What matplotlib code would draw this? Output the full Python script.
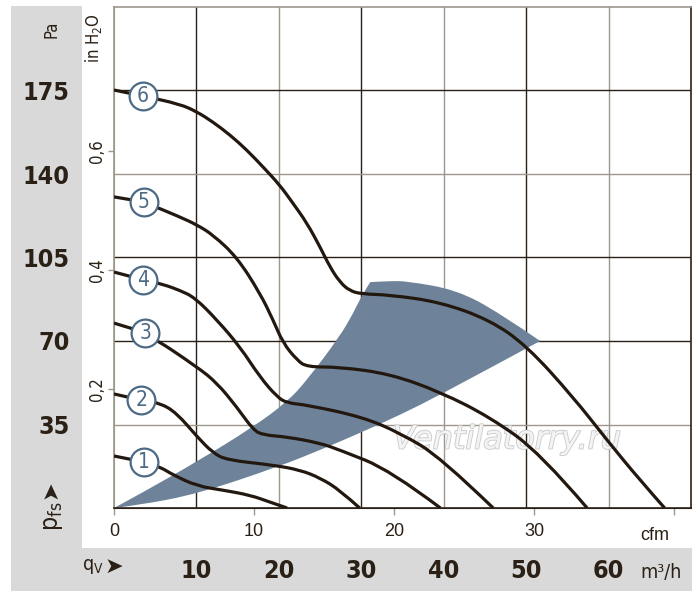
import matplotlib
matplotlib.use("Agg")
import matplotlib.pyplot as plt
import matplotlib.patheffects as pe
from matplotlib import font_manager
from matplotlib.patches import Rectangle, PathPatch
from matplotlib.path import Path

# ---- data: qV in m3/h, pfs in Pa ---------------------------------------------
q1 = [0, 3.6, 5.6, 7.2, 10.1, 13.2, 16.5, 18.9, 21.0]
p1 = [21.8, 19.3, 17.2, 13.8, 9.2, 7.5, 5.4, 2.5, 0]

q2 = [0, 3.2, 5.6, 7.6, 10.1, 12.0, 13.7, 19.3, 22.6, 25.0, 27.4, 29.8]
p2 = [47.8, 45.3, 44.0, 39.8, 29.8, 23.1, 20.1, 18.0, 15.9, 12.6, 7.5, 0]

q3 = [0, 3.9, 10.1, 12.5, 14.9, 16.9, 18.1, 21.0, 25.0, 27.4, 33.5, 39.6]
p3 = [77.5, 73.4, 59.1, 52.4, 42.3, 32.7, 30.6, 29.8, 27.2, 24.3, 15.9, 0]

q4 = [0, 3.6, 6.0, 8.0, 9.8, 12.5, 15.3, 17.7, 19.8, 21.0, 23.4, 30.2, 34.7, 39.6, 46.0]
p4 = [98.9, 95.6, 93.7, 91.2, 88.2, 78.8, 67.5, 54.9, 46.5, 44.0, 43.2, 38.1, 31.4, 21.4, 0]

q5 = [0, 3.6, 8.0, 10.1, 12.0, 14.9, 17.7, 19.3, 20.5, 22.2, 23.4, 27.4, 33.5, 39.6, 45.6, 51.7, 57.4]
p5 = [130.4, 128.3, 122.0, 118.6, 114.5, 105.2, 90.1, 78.8, 69.2, 62.0, 59.1, 59.1, 56.2, 48.6, 38.1, 23.1, 0]

q6 = [0, 3.5, 8.0, 10.1, 12.0, 14.1, 16.1, 18.1, 20.1, 21.7, 23.4, 25.0, 26.2, 27.4, 28.6, 30.1,
      33.5, 39.6, 45.6, 50.1, 55.7, 59.8, 63.8, 66.8]
p6 = [175.2, 172.7, 169.3, 166.0, 161.8, 156.3, 150.1, 142.9, 135.4, 127.8, 119.5, 109.4, 101.0, 94.7, 91.0, 89.7,
      89.3, 86.3, 78.8, 67.9, 46.5, 28.5, 11.7, 0]

# operating range band: upper edge, top arc, lower edge
band_up_q = [0, 3.2, 10.1, 16.9, 21.0, 23.4, 27.4, 29.0, 30.2, 31.1]
band_up_p = [0, 6.0, 19.5, 34.0, 44.5, 53.5, 72.0, 81.5, 90.0, 94.7]
band_arc_q = [31.1, 33.5, 35.5, 41.6, 46.8, 51.7]
band_arc_p = [94.7, 95.1, 95.1, 91.4, 81.7, 70.0]
band_low_q = [51.7, 39.6, 34.7, 29.8, 25.0, 20.1, 10.1, 3.2, 0]
band_low_p = [70.0, 47.5, 39.0, 31.4, 24.3, 17.5, 5.9, 1.3, 0]

curve_names = ["1", "2", "3", "4", "5", "6"]
label_q = [3.6, 3.3, 3.8, 3.5, 3.6, 3.5]
label_p = [19.3, 45.3, 73.4, 95.6, 128.3, 172.7]

pa_ticks = [35, 70, 105, 140, 175]
m3h_ticks = [10, 20, 30, 40, 50, 60]
cfm_ticks = [0, 10, 20, 30, 40]
cfm_labels = ["0", "10", "20", "30", ""]
inh2o_ticks = [0.2, 0.4, 0.6]
inh2o_labels = ["0,2", "0,4", "0,6"]

M3H_PER_CFM = 1.699
PA_PER_INH2O = 249.09

DARK = "#2b2016"
GRAY = "#9d978c"
BLUE = "#4c6a86"

# pick a condensed face if one is installed
fonts = font_manager.fontManager.ttflist
names = {f.name for f in fonts}
if "Liberation Sans Narrow" in names:
    NARROW = dict(family="Liberation Sans Narrow")
    math_rm = "Liberation Sans Narrow"
elif any(f.name == "DejaVu Sans" and "ondensed" in f.fname for f in fonts):
    NARROW = dict(family="DejaVu Sans", stretch="condensed")
    math_rm = "DejaVu Sans:stretch=condensed"
else:
    NARROW = dict(family="Roboto")
    math_rm = "Roboto"

plt.rcParams["mathtext.fontset"] = "custom"
plt.rcParams["mathtext.rm"] = math_rm
plt.rcParams["mathtext.default"] = "regular"


def smooth_segment(q, p):
    # quadratic pieces through midpoints of the read points; starts after q[0], p[0]
    verts = [((q[0] + q[1]) / 2, (p[0] + p[1]) / 2)]
    codes = [Path.LINETO]
    for i in range(1, len(q) - 2):
        verts += [(q[i], p[i]), ((q[i] + q[i + 1]) / 2, (p[i] + p[i + 1]) / 2)]
        codes += [Path.CURVE3, Path.CURVE3]
    verts += [(q[-2], p[-2]), (q[-1], p[-1])]
    codes += [Path.CURVE3, Path.CURVE3]
    return verts, codes


def smooth_line(q, p):
    verts, codes = smooth_segment(q, p)
    return Path([(q[0], p[0])] + verts, [Path.MOVETO] + codes)


fig = plt.figure(figsize=(7.0, 6.03), dpi=100)
W, H = 700, 603

# grey frame strips
fig.patches.append(Rectangle((11 / W, 1 - 591 / H), 71 / W, 585 / H, transform=fig.transFigure,
                             facecolor="#d9d9d9", edgecolor="none", zorder=-5))
fig.patches.append(Rectangle((11 / W, 1 - 591 / H), 681 / W, 43 / H, transform=fig.transFigure,
                             facecolor="#d9d9d9", edgecolor="none", zorder=-5))

ax = fig.add_axes([114 / W, 1 - 508 / H, 577 / W, 501 / H])
ax.set_xlim(0, 70)
ax.set_ylim(0, 210)

for i, v in enumerate(m3h_ticks):
    ax.axvline(v, color=DARK if i % 2 == 0 else GRAY, lw=1.0, zorder=1)
for i, v in enumerate(pa_ticks):
    ax.axhline(v, color=GRAY if i in (0, 3) else DARK, lw=1.0, zorder=1)

# band
verts, codes = [(band_up_q[0], band_up_p[0])], [Path.MOVETO]
for bq, bp in [(band_up_q, band_up_p), (band_arc_q, band_arc_p), (band_low_q, band_low_p)]:
    v, c = smooth_segment(bq, bp)
    verts += v
    codes += c
verts.append((0, 0))
codes.append(Path.CLOSEPOLY)
ax.add_patch(PathPatch(Path(verts, codes), facecolor="#6e8399", edgecolor="none", zorder=2))

ax.text(47.7, 28.5, "Ventilatorry.ru", fontsize=23, style="italic", color="#f4f4f4",
        ha="center", va="center", zorder=2.5,
        path_effects=[pe.withStroke(linewidth=1.3, foreground="#cccccc")])

for q, p in [(q1, p1), (q2, p2), (q3, p3), (q4, p4), (q5, p5), (q6, p6)]:
    ax.add_patch(PathPatch(smooth_line(q, p), fill=False, edgecolor="#22180f", lw=2.3,
                           joinstyle="round", capstyle="butt", zorder=3))

for name, lq, lp in zip(curve_names, label_q, label_p):
    ax.plot(lq, lp, "o", ms=20, mfc="white", mec=BLUE, mew=1.6, zorder=4)
    ax.text(lq, lp, name, fontsize=15, color=BLUE, ha="center", va="center", zorder=5, **NARROW)

for side in ("left", "top"):
    ax.spines[side].set_color(GRAY)
for side in ("right", "bottom"):
    ax.spines[side].set_color(DARK)
for s in ax.spines.values():
    s.set_linewidth(1.2)

ax.set_yticks(pa_ticks)
ax.set_yticklabels([str(v) for v in pa_ticks], fontweight="bold", fontsize=18, color=DARK, **NARROW)
ax.tick_params(axis="y", length=0, pad=32)
ax.set_xticks(m3h_ticks)
ax.set_xticklabels([str(v) for v in m3h_ticks], fontweight="bold", fontsize=18, color=DARK, **NARROW)
ax.tick_params(axis="x", length=0, pad=37)

# cfm scale
secx = ax.secondary_xaxis("bottom", functions=(lambda x: x / M3H_PER_CFM, lambda x: x * M3H_PER_CFM))
secx.set_xticks(cfm_ticks)
secx.set_xticklabels(cfm_labels, family=["Liberation Sans", "DejaVu Sans"], fontsize=13, color=DARK)
secx.tick_params(length=5, width=1, color=GRAY, pad=6)
secx.spines["bottom"].set_color(DARK)

# inch H2O scale
secy = ax.secondary_yaxis("left", functions=(lambda y: y / PA_PER_INH2O, lambda y: y * PA_PER_INH2O))
secy.set_yticks(inh2o_ticks)
secy.set_yticklabels(inh2o_labels, rotation=90, va="center", fontsize=12, color=DARK, **NARROW)
secy.tick_params(length=4, width=1, color=GRAY, pad=2)
secy.spines["left"].set_color(GRAY)

# axis captions
fig.text(51 / W, 1 - 29 / H, "Pa", rotation=90, ha="center", va="center",
         fontsize=12, color=DARK, **NARROW)
fig.text(94 / W, 1 - 38 / H, "in H$_2$O", rotation=90, ha="center", va="center",
         fontsize=12, color=DARK, **NARROW)
fig.text(655 / W, 1 - 535 / H, "cfm", ha="center", va="center",
         fontsize=13, family=["Liberation Sans", "DejaVu Sans"], color=DARK)
fig.text(640 / W, 1 - 572 / H, "m³/h", ha="left", va="center",
         fontsize=14, color=DARK, **NARROW)
fig.text(82 / W, 1 - 567 / H, "q$_V$", ha="left", va="center",
         fontsize=14, color=DARK, **NARROW)
fig.text(114 / W, 1 - 567 / H, "➤", ha="center", va="center",
         fontsize=16, family="DejaVu Sans", color=DARK)
fig.text(53 / W, 1 - 516 / H, "p$_{fs}$", rotation=90, ha="center", va="center",
         fontsize=18, color=DARK, **NARROW)
fig.text(50 / W, 1 - 490 / H, "➤", rotation=90, ha="center", va="center",
         fontsize=16, family="DejaVu Sans", color=DARK)

fig.savefig("out.png", dpi=100, facecolor="white")
